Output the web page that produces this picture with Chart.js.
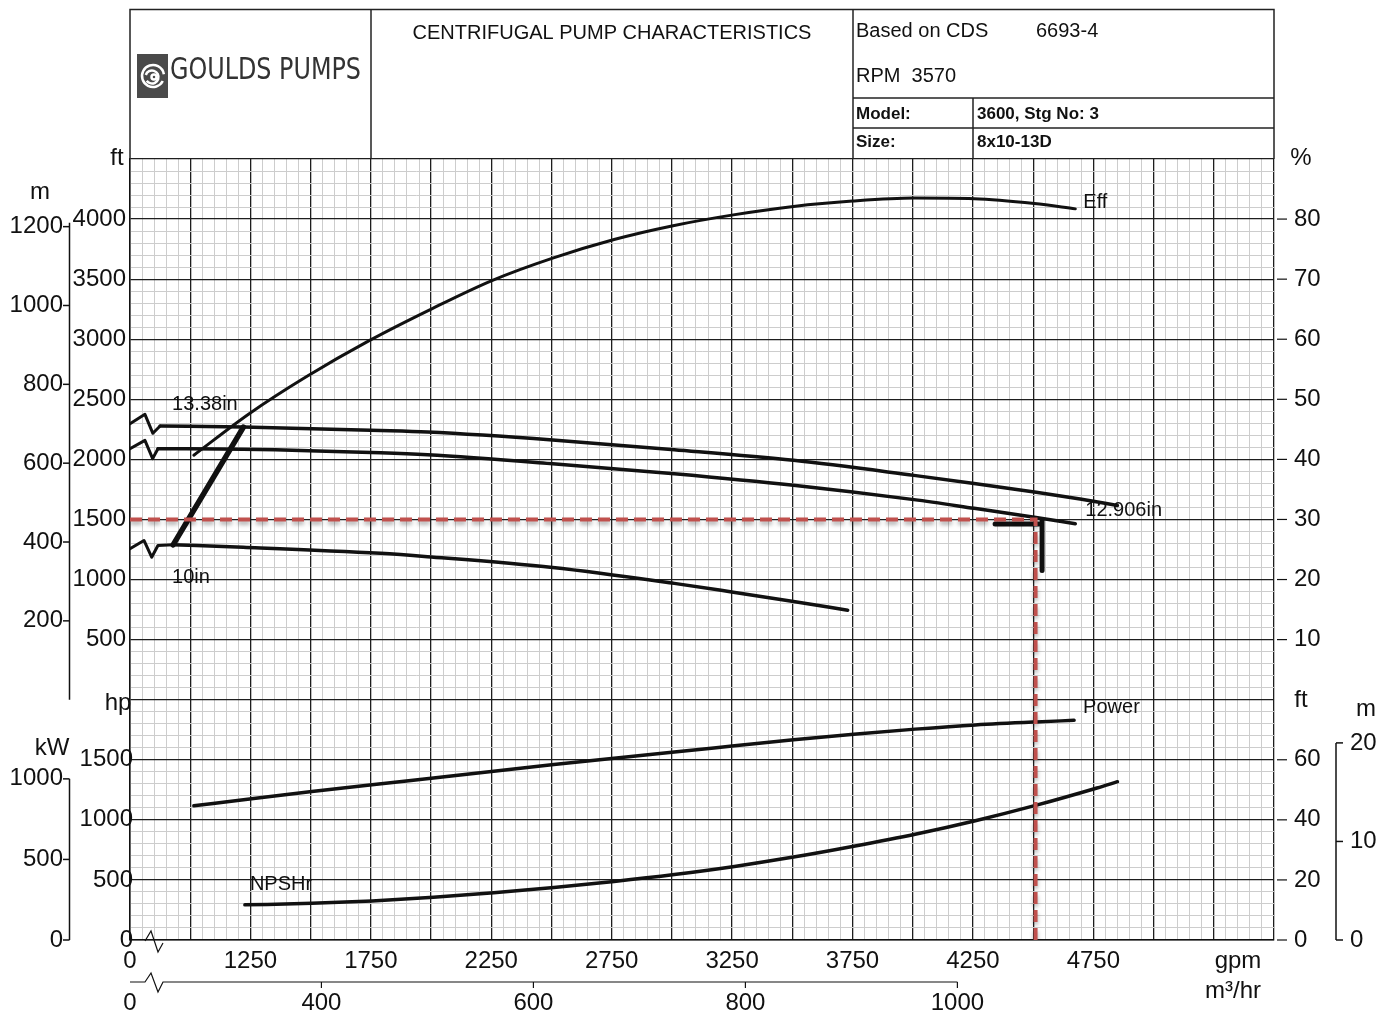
<!DOCTYPE html>
<html>
<head>
<meta charset="utf-8">
<title>Centrifugal Pump Characteristics</title>
<script src="https://cdn.jsdelivr.net/npm/chart.js@4.4.1/dist/chart.umd.min.js"></script>
<style>
  html, body { margin: 0; padding: 0; background: #fff; }
  #wrap { width: 1381px; height: 1017px; }
</style>
</head>
<body>
<div id="wrap"><canvas id="pump" width="1381" height="1017"></canvas></div>
<script>
// flow is in gpm; the axis is broken, its left edge (shown as 0) sits at 750 gpm
const effFlow = [1015, 1245, 1480, 1745, 2005, 2255, 2505, 2760, 3005, 3255, 3505, 3750, 4005, 4255, 4505, 4675];
const effPct = [40.7, 47.6, 53.7, 59.8, 65.1, 69.8, 73.5, 76.6, 78.9, 80.7, 82.1, 83.0, 83.5, 83.4, 82.6, 81.7];

const head1338Flow = [875, 1220, 1790, 1985, 2505, 3010, 3505, 4005, 4255, 4505, 4695, 4850];
const head1338Ft = [2278, 2269, 2240, 2227, 2162, 2081, 1992, 1867, 1800, 1728, 1670, 1617];
const head12906Flow = [866, 1220, 1790, 1985, 2505, 3010, 3505, 4005, 4255, 4505, 4675];
const head12906Ft = [2089, 2085, 2055, 2038, 1964, 1881, 1785, 1665, 1593, 1519, 1464];
const head10Flow = [929, 1220, 1790, 1985, 2505, 3010, 3255, 3505, 3730];
const head10Ft = [1289, 1269, 1218, 1190, 1100, 968, 895, 818, 745];

// broken-axis zigzags at the start of each head curve
const break1338Flow = [750, 812, 845, 875];
const break1338Ft = [2297, 2375, 2217, 2278];
const break12906Flow = [750, 812, 844, 866];
const break12906Ft = [2089, 2158, 2006, 2089];
const break10Flow = [750, 808, 840, 866, 929];
const break10Ft = [1256, 1325, 1186, 1283, 1289];

const minFlowGpm = [929, 1221];
const minFlowFt = [1289, 2269];

const powerFlow = [1015, 1255, 1505, 1755, 2010, 2260, 2510, 2760, 3010, 3260, 3505, 3755, 4010, 4260, 4510, 4670];
const powerHp = [1117, 1176, 1235, 1292, 1349, 1405, 1460, 1513, 1565, 1616, 1666, 1713, 1755, 1790, 1815, 1828];

const npshFlow = [1227, 1505, 1755, 2010, 2260, 2510, 2760, 3010, 3260, 3505, 3755, 4010, 4260, 4510, 4765, 4850];
const npshFt = [11.7, 12.2, 13.0, 14.2, 15.7, 17.5, 19.5, 21.8, 24.5, 27.6, 31.2, 35.2, 39.7, 44.8, 50.6, 52.7];

// duty point (dashed guide) and the rated-point bracket
const dutyFlow = [750, 4510, 4510];
const dutyHead = [1500, 1500, -2000];
const markHFlow = [4342, 4525];
const markHFt = [1462, 1462];
const markVFlow = [4537, 4537];
const markVFt = [1495, 1075];

// tick labels
const gpmTicks = [750, 1250, 1750, 2250, 2750, 3250, 3750, 4250, 4750];
const gpmLabels = ['0', '1250', '1750', '2250', '2750', '3250', '3750', '4250', '4750'];
const m3hTicks = [400, 600, 800, 1000];
const ftTicks = [500, 1000, 1500, 2000, 2500, 3000, 3500, 4000];
const mTicks = [200, 400, 600, 800, 1000, 1200];
const pctTicks = [10, 20, 30, 40, 50, 60, 70, 80];
const hpTicks = [0, 500, 1000, 1500];
const kwTicks = [0, 500, 1000];
const npshFtTicks = [0, 20, 40, 60];
const npshMTicks = [0, 10, 20];

const FONT = '"Liberation Sans", Arial, sans-serif';
const INK = '#111';
const DUTY = '#c0504d';
const LBL = 24;

function pts(xs, ys) {
  return xs.map((x, i) => ({ x: x, y: ys[i] }));
}

function curve(xs, ys, axis, width, smooth) {
  return {
    data: pts(xs, ys),
    xAxisID: 'x',
    yAxisID: axis,
    showLine: true,
    borderColor: INK,
    borderWidth: width,
    pointRadius: 0,
    fill: false,
    tension: 0,
    cubicInterpolationMode: smooth ? 'monotone' : 'default',
    borderCapStyle: 'round',
    borderJoinStyle: 'round'
  };
}

function gridTicks(min, max, step) {
  const t = [];
  for (let v = min; v <= max + 1e-6; v += step) t.push({ value: v });
  return t;
}

const duty = curve(dutyFlow, dutyHead, 'y', 4, false);
duty.borderColor = DUTY;
duty.borderDash = [12, 6];
duty.borderCapStyle = 'butt';
duty.borderJoinStyle = 'miter';
duty.shadow = true;

const datasets = [
  duty,
  curve(effFlow, effPct, 'yPct', 3, true),
  curve(head1338Flow, head1338Ft, 'y', 3.5, true),
  curve(head12906Flow, head12906Ft, 'y', 3.5, true),
  curve(head10Flow, head10Ft, 'y', 3.5, true),
  curve(break1338Flow, break1338Ft, 'y', 3, false),
  curve(break12906Flow, break12906Ft, 'y', 3, false),
  curve(break10Flow, break10Ft, 'y', 3, false),
  curve(minFlowGpm, minFlowFt, 'y', 5.5, false),
  curve(powerFlow, powerHp, 'yHp', 3.5, true),
  curve(npshFlow, npshFt, 'yNpsh', 3.5, true),
  curve(markHFlow, markHFt, 'y', 5, false),
  curve(markVFlow, markVFt, 'y', 5, false)
];

const sheet = {
  id: 'sheet',
  beforeDatasetDraw(chart, args) {
    if (chart.data.datasets[args.index].shadow) {
      const ctx = chart.ctx;
      ctx.save();
      ctx.shadowColor = 'rgba(0,0,0,0.35)';
      ctx.shadowBlur = 4;
      ctx.shadowOffsetY = 3;
    }
  },
  afterDatasetDraw(chart, args) {
    if (chart.data.datasets[args.index].shadow) chart.ctx.restore();
  },
  afterDraw(chart) {
    const ctx = chart.ctx;
    const s = chart.scales;
    const { left, right, top, bottom } = chart.chartArea;
    ctx.save();
    ctx.fillStyle = INK;
    ctx.strokeStyle = INK;
    ctx.lineCap = 'butt';

    const text = (str, x, y, align, size, weight) => {
      ctx.font = (weight || 'normal') + ' ' + size + 'px ' + FONT;
      ctx.textAlign = align;
      ctx.textBaseline = 'middle';
      ctx.fillText(str, x, y);
    };
    const line = (p, w) => {
      ctx.lineWidth = w;
      ctx.beginPath();
      p.forEach(([x, y], i) => (i ? ctx.lineTo(x, y) : ctx.moveTo(x, y)));
      ctx.stroke();
    };

    // header block
    const hTop = 9.5;
    ctx.strokeStyle = '#222';
    line([[left, top], [left, hTop], [right, hTop], [right, top]], 1.5);
    line([[371, hTop], [371, top]], 1.5);
    line([[853, hTop], [853, top]], 1.5);
    line([[853, 98], [right, 98]], 1.5);
    line([[853, 128], [right, 128]], 1.5);
    line([[973, 98], [973, top]], 1.5);
    ctx.strokeStyle = INK;

    text('CENTRIFUGAL PUMP CHARACTERISTICS', 612, 33, 'center', 20);
    text('Based on CDS', 856, 31, 'left', 20);
    text('6693-4', 1036, 31, 'left', 20);
    text('RPM  3570', 856, 76, 'left', 20);
    text('Model:', 856, 114, 'left', 17, 'bold');
    text('3600, Stg No: 3', 977, 114, 'left', 17, 'bold');
    text('Size:', 856, 142, 'left', 17, 'bold');
    text('8x10-13D', 977, 142, 'left', 17, 'bold');

    // logo
    ctx.fillStyle = '#4a4a4a';
    ctx.fillRect(137, 54, 31, 44);
    ctx.strokeStyle = '#fff';
    ctx.lineWidth = 2.5;
    ctx.beginPath();
    ctx.arc(153, 76, 11, 0.15 * Math.PI, 1.95 * Math.PI);
    ctx.stroke();
    ctx.beginPath();
    ctx.arc(152, 77, 6.5, 1.1 * Math.PI, 2.8 * Math.PI);
    ctx.stroke();
    ctx.beginPath();
    ctx.arc(154, 77, 2.5, 0, 2 * Math.PI);
    ctx.stroke();
    ctx.strokeStyle = INK;
    ctx.fillStyle = '#333';
    ctx.font = '31px "DejaVu Sans Condensed", "DejaVu Sans", sans-serif';
    ctx.textAlign = 'left';
    ctx.textBaseline = 'middle';
    ctx.fillText('GOULDS PUMPS', 170, 71, 191);
    ctx.fillStyle = INK;

    // left: head in m and ft
    const yM = s.yM, yFt = s.y, yHp = s.yHp, yKw = s.yKw;
    const yPct = s.yPct, yN = s.yNpsh, yNm = s.yNpshM;
    text('m', 40, 192, 'center', LBL);
    text('ft', 117, 158, 'center', LBL);
    line([[69.5, yM.getPixelForValue(1200) - 4], [69.5, yM.getPixelForValue(0)]], 1.5);
    mTicks.forEach(v => {
      const y = yM.getPixelForValue(v);
      line([[63, y], [69.5, y]], 1.5);
      text(String(v), 63, y, 'right', LBL);
    });
    ftTicks.forEach(v => text(String(v), 126, yFt.getPixelForValue(v), 'right', LBL));

    // left: power
    text('hp', 118, 703, 'center', LBL);
    text('kW', 52, 748, 'center', LBL);
    line([[69.5, yKw.getPixelForValue(1000)], [69.5, yKw.getPixelForValue(0)]], 1.5);
    kwTicks.forEach(v => {
      const y = yKw.getPixelForValue(v);
      line([[63, y], [69.5, y]], 1.5);
      text(String(v), 63, y, 'right', LBL);
    });
    hpTicks.forEach(v => text(String(v), 133, yHp.getPixelForValue(v), 'right', LBL));

    // right: efficiency and NPSH
    text('%', 1301, 158, 'center', LBL);
    pctTicks.forEach(v => {
      const y = yPct.getPixelForValue(v);
      line([[right + 3, y], [right + 13, y]], 1.2);
      text(String(v), 1294, y, 'left', LBL);
    });
    text('ft', 1301, 700, 'center', LBL);
    npshFtTicks.forEach(v => {
      const y = yN.getPixelForValue(v);
      line([[right + 3, y], [right + 13, y]], 1.2);
      text(String(v), 1294, y, 'left', LBL);
    });
    text('m', 1366, 709, 'center', LBL);
    line([[1336, yNm.getPixelForValue(20)], [1336, yNm.getPixelForValue(0)]], 1.5);
    npshMTicks.forEach(v => {
      const y = yNm.getPixelForValue(v);
      line([[1336, y], [1343, y]], 1.5);
      text(String(v), 1350, y, 'left', LBL);
    });

    // bottom: gpm
    gpmTicks.forEach((v, i) => text(gpmLabels[i], s.x.getPixelForValue(v), 961, 'center', LBL));
    text('gpm', 1238, 961, 'center', LBL);
    text('m\u00b3/hr', 1233, 991, 'center', LBL);
    ctx.lineJoin = 'miter';
    line([[left + 15, bottom + 1], [left + 21, bottom - 9], [left + 28, bottom + 12], [left + 33, bottom + 3]], 1.2);

    // bottom: m3/hr
    const my = 982;
    line([[left, my], [left + 15, my], [left + 21, my - 9], [left + 28, my + 10], [left + 33, my], [s.x2.getPixelForValue(1000), my]], 1.2);
    text('0', left, 1003, 'center', LBL);
    m3hTicks.forEach(v => {
      const x = s.x2.getPixelForValue(v);
      line([[x, my], [x, my + 6]], 1.2);
      text(String(v), x, 1003, 'center', LBL);
    });

    // curve captions, placed from the curves' own points
    const px = v => s.x.getPixelForValue(v);
    const last = a => a[a.length - 1];
    text('Eff', px(last(effFlow)) + 8, yPct.getPixelForValue(last(effPct)) - 6, 'left', 20);
    text('Power', px(last(powerFlow)) + 9, yHp.getPixelForValue(last(powerHp)) - 13, 'left', 20);
    text('12.906in', px(last(head12906Flow)) + 10, yFt.getPixelForValue(last(head12906Ft)) - 13, 'left', 20);
    text('13.38in', px(head1338Flow[0]) + 12, yFt.getPixelForValue(head1338Ft[0]) - 21, 'left', 20);
    text('10in', px(head10Flow[0]) - 1, yFt.getPixelForValue(head10Ft[0]) + 33, 'left', 20);
    text('NPSHr', px(npshFlow[0]) + 5, yN.getPixelForValue(npshFt[0]) - 20, 'left', 20);

    ctx.restore();
  }
};

const gridColor = major => (major ? '#1e1e1e' : '#cdcdcd');

new Chart(document.getElementById('pump'), {
  type: 'scatter',
  data: { datasets: datasets },
  plugins: [sheet],
  options: {
    responsive: false,
    devicePixelRatio: 1,
    animation: false,
    layout: { padding: { left: 130, top: 159, right: 107, bottom: 77 } },
    plugins: { legend: { display: false }, tooltip: { enabled: false } },
    scales: {
      x: {
        type: 'linear', position: 'bottom', min: 750, max: 5500,
        afterBuildTicks: sc => { sc.ticks = gridTicks(750, 5500, 50); },
        ticks: { display: false },
        border: { display: true, color: INK, width: 1.5 },
        grid: {
          drawTicks: false,
          color: c => gridColor((c.tick.value - 750) % 250 === 0),
          lineWidth: c => ((c.tick.value - 750) % 250 === 0 ? 1.3 : 1)
        }
      },
      x2: { type: 'linear', display: false, position: 'bottom', min: 219.4, max: 1298.7 },
      y: {
        type: 'linear', position: 'left', min: -2000, max: 4500,
        afterBuildTicks: sc => { sc.ticks = gridTicks(-2000, 4500, 100); },
        ticks: { display: false },
        border: { display: true, color: INK, width: 1.5 },
        grid: {
          drawTicks: false,
          color: c => gridColor(c.tick.value % 500 === 0),
          lineWidth: c => (c.tick.value % 500 === 0 ? 1.3 : 1)
        }
      },
      yM: { type: 'linear', display: false, min: -2000 / 3.2808, max: 4500 / 3.2808 },
      yPct: { type: 'linear', display: false, min: -40, max: 90 },
      yHp: { type: 'linear', display: false, min: 0, max: 6500 },
      yKw: { type: 'linear', display: false, min: 0, max: 6500 * 0.7457 },
      yNpsh: { type: 'linear', display: false, min: 0, max: 260 },
      yNpshM: { type: 'linear', display: false, min: 0, max: 260 / 3.2808 }
    }
  }
});
</script>
</body>
</html>
